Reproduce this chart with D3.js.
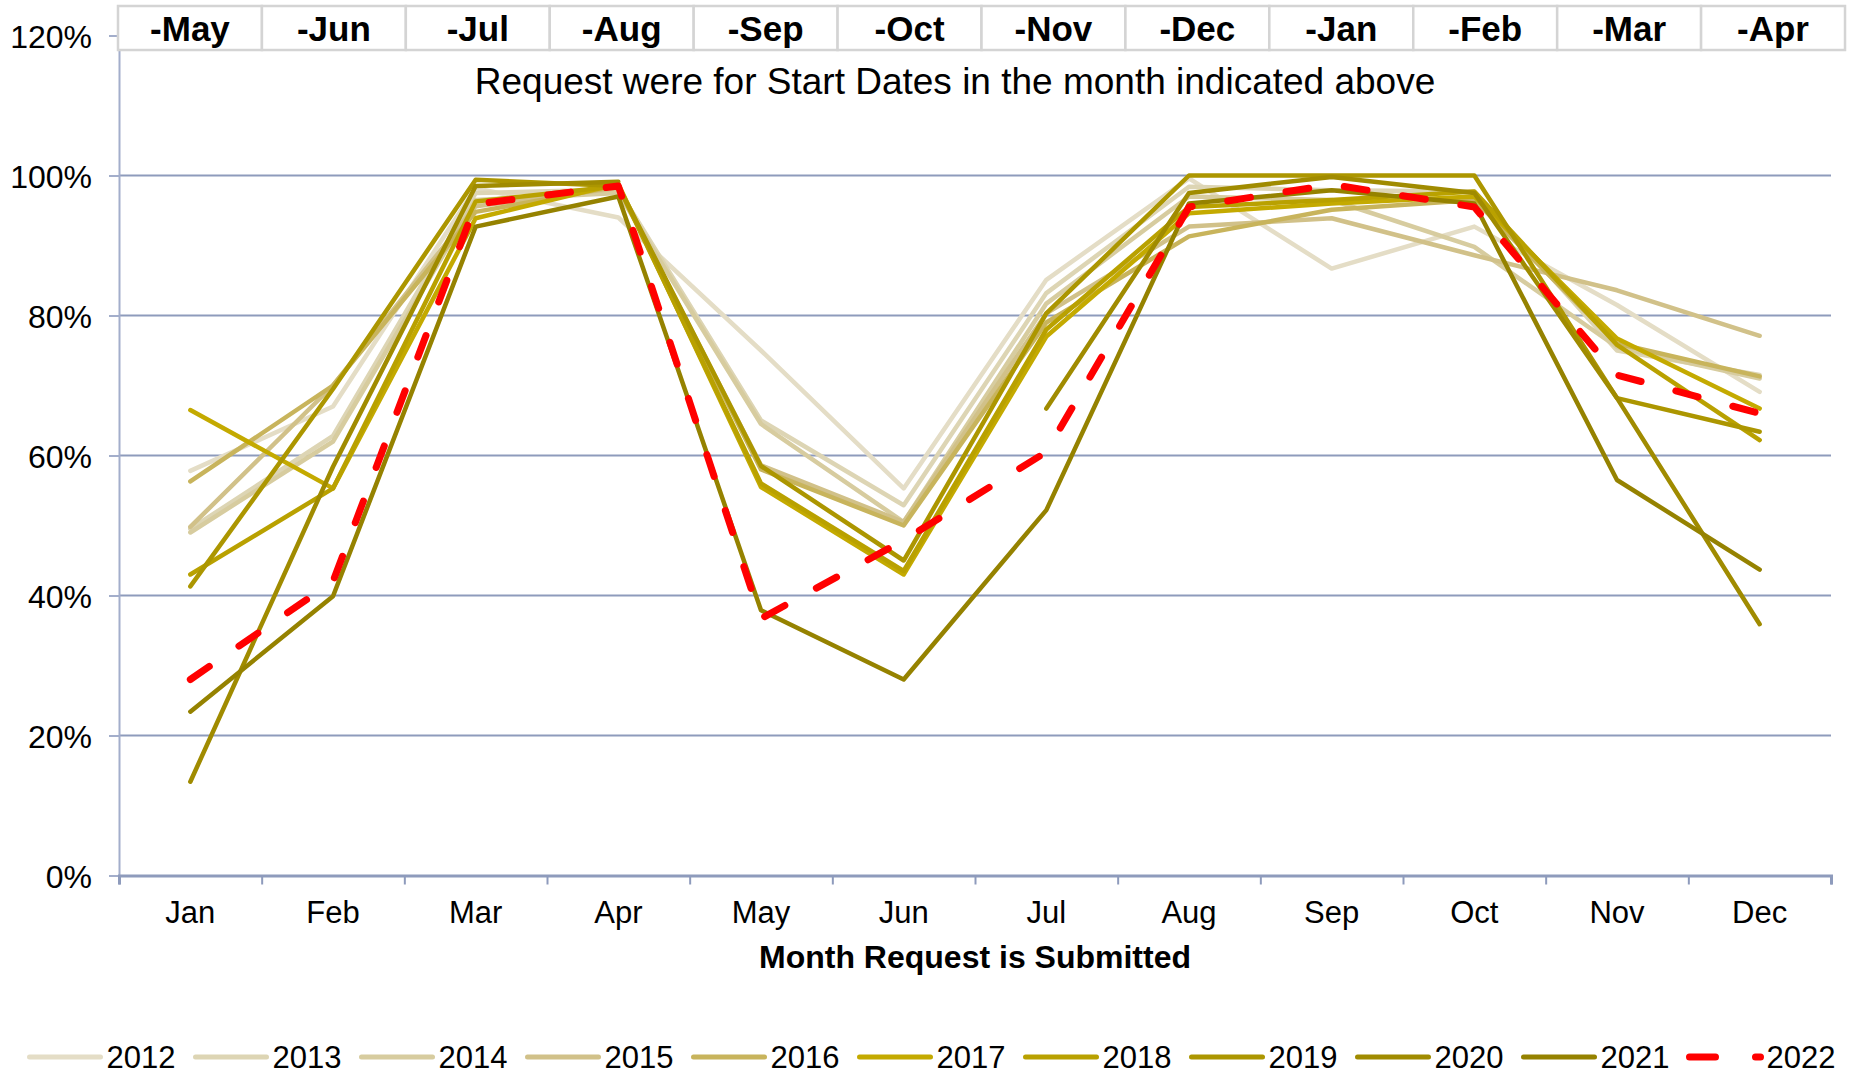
<!DOCTYPE html>
<html>
<head>
<meta charset="utf-8">
<script src="https://cdn.jsdelivr.net/npm/d3@7/dist/d3.min.js"></script>
<style>
  body { margin: 0; background: #fff; }
  text { font-family: "Liberation Sans", Arial, sans-serif; fill: #000; }
</style>
</head>
<body>
<svg id="chart" width="1853" height="1074"></svg>
<script>
// Month the request is submitted, and the start month it was for
const months = ["Jan", "Feb", "Mar", "Apr", "May", "Jun", "Jul", "Aug", "Sep", "Oct", "Nov", "Dec"];
const startMonths = ["-May", "-Jun", "-Jul", "-Aug", "-Sep", "-Oct", "-Nov", "-Dec", "-Jan", "-Feb", "-Mar", "-Apr"];
const yTicks = [0, 0.2, 0.4, 0.6, 0.8, 1.0, 1.2];

const years = ["2012", "2013", "2014", "2015", "2016", "2017", "2018", "2019", "2020", "2021", "2022"];
const colors = ["#e4ddc6", "#ddd5b4", "#d7cc9f", "#d1c189", "#c8b45c", "#c4aa00", "#b9a100", "#ac9600", "#a08b00", "#958200", "#ff0000"];

// share of requests per month (fractions)
const v2012 = [0.578, 0.670, 0.982, 0.940, 0.750, 0.553, 0.851, 0.996, 0.867, 0.927, 0.815, 0.691];
const v2013 = [0.495, 0.628, 0.975, 0.980, 0.650, 0.529, 0.832, 0.984, 0.979, 0.977, 0.750, 0.715];
const v2014 = [0.490, 0.620, 0.965, 0.975, 0.645, 0.505, 0.817, 0.970, 0.965, 0.898, 0.755, 0.710];
const v2015 = [0.498, 0.700, 0.956, 0.982, 0.586, 0.505, 0.803, 0.927, 0.939, 0.886, 0.836, 0.771];
const v2016 = [0.563, 0.700, 0.948, 0.985, 0.580, 0.500, 0.790, 0.913, 0.951, 0.965, 0.760, 0.713];
const v2017 = [0.665, 0.553, 0.939, 0.988, 0.555, 0.430, 0.770, 0.946, 0.960, 0.970, 0.767, 0.667];
const v2018 = [0.430, 0.553, 0.963, 0.985, 0.560, 0.435, 0.780, 0.955, 0.965, 0.977, 0.758, 0.622];
const v2019 = [0.413, 0.695, 0.994, 0.985, 0.585, 0.450, 0.803, 1.000, 1.000, 1.000, 0.682, 0.634];
const v2020 = [0.134, 0.584, 0.985, 0.991, null, null, 0.667, 0.975, 0.998, 0.975, 0.682, 0.359];
const v2021 = [0.234, 0.399, 0.927, 0.970, 0.379, 0.280, 0.522, 0.960, 0.979, 0.960, 0.565, 0.437];
const v2022 = [0.280, 0.420, 0.959, 0.985, 0.367, 0.479, 0.605, 0.955, 0.987, 0.955, 0.715, 0.660];
const seriesValues = [v2012, v2013, v2014, v2015, v2016, v2017, v2018, v2019, v2020, v2021, v2022];

const svg = d3.select("#chart");
const plotLeft = 119, plotRight = 1831, plotBottom = 875.5, plotTop = 35.5;
const axisColor = "#8e9bbc";

const x = d3.scaleBand().domain(months).range([plotLeft, plotRight]);
const xEdge = d3.scaleLinear().domain([0, 12]).range([plotLeft, plotRight]);
const y = d3.scaleLinear().domain([0, 1.2]).range([plotBottom, plotTop]);
const cx = m => x(m) + x.bandwidth() / 2;

// gridlines
svg.append("g")
  .selectAll("line")
  .data(yTicks.filter(d => d > 0 && d < 1.2))
  .join("line")
  .attr("x1", plotLeft).attr("x2", plotRight)
  .attr("y1", d => y(d)).attr("y2", d => y(d))
  .attr("stroke", axisColor)
  .attr("stroke-width", 2);

// y axis
const yAxis = svg.append("g")
  .attr("transform", `translate(${plotLeft},0)`)
  .call(d3.axisLeft(y).tickValues(yTicks).tickFormat(d3.format(".0%")).tickSize(10).tickPadding(17));
yAxis.select(".domain").attr("stroke", "#a3aecb").attr("stroke-width", 2);
yAxis.selectAll(".tick line").attr("stroke", "#a3aecb").attr("stroke-width", 2);
yAxis.selectAll(".tick text").attr("font-size", 32).attr("dy", "0.36em").attr("fill", "#000");

// x axis: ticks on month boundaries, labels centred in each month
const xTicks = svg.append("g")
  .attr("transform", `translate(0,${plotBottom})`)
  .call(d3.axisBottom(xEdge).tickValues(d3.range(13)).tickFormat("").tickSize(9));
xTicks.select(".domain").attr("stroke", axisColor).attr("stroke-width", 3);
xTicks.selectAll(".tick line").attr("stroke", axisColor).attr("stroke-width", 2);

const xLabels = svg.append("g")
  .attr("transform", `translate(0,${plotBottom})`)
  .call(d3.axisBottom(x).tickSize(0).tickPadding(25));
xLabels.select(".domain").remove();
xLabels.selectAll(".tick text").attr("font-size", 31).attr("fill", "#000");

svg.append("text")
  .attr("x", (plotLeft + plotRight) / 2)
  .attr("y", 968)
  .attr("text-anchor", "middle")
  .attr("font-size", 32)
  .attr("font-weight", "bold")
  .text("Month Request is Submitted");

// series lines
const line = d3.line()
  .defined(d => d.v != null)
  .x(d => cx(d.m))
  .y(d => y(d.v));

svg.append("g")
  .selectAll("path")
  .data(years.map((yr, i) => ({ yr, i, pts: months.map((m, j) => ({ m, v: seriesValues[i][j] })) })))
  .join("path")
  .attr("d", d => line(d.pts))
  .attr("fill", "none")
  .attr("stroke", d => colors[d.i])
  .attr("stroke-width", d => d.yr === "2022" ? 7 : 4.5)
  .attr("stroke-dasharray", d => d.yr === "2022" ? "23 36" : null)
  .attr("stroke-linecap", "round")
  .attr("stroke-linejoin", "round");

// header row of start months
const header = svg.append("g");
const cellW = (1845 - 118) / 12;
header.selectAll("rect")
  .data(startMonths)
  .join("rect")
  .attr("x", (d, i) => 118 + i * cellW)
  .attr("y", 6)
  .attr("width", cellW)
  .attr("height", 44)
  .attr("fill", "#fff")
  .attr("stroke", "#d4d4d4")
  .attr("stroke-width", 2.5);
header.selectAll("text")
  .data(startMonths)
  .join("text")
  .attr("x", (d, i) => 118 + i * cellW + cellW / 2)
  .attr("y", 41)
  .attr("text-anchor", "middle")
  .attr("font-size", 35)
  .attr("font-weight", "bold")
  .text(d => d);

svg.append("text")
  .attr("x", 955)
  .attr("y", 94)
  .attr("text-anchor", "middle")
  .attr("font-size", 37)
  .text("Request were for Start Dates in the month indicated above");

// legend
const legend = svg.append("g")
  .selectAll("g")
  .data(years)
  .join("g")
  .attr("transform", (d, i) => `translate(${29.5 + i * 166},0)`);
legend.append("line")
  .attr("x1", 0).attr("x2", 71)
  .attr("y1", 1057).attr("y2", 1057)
  .attr("stroke", (d, i) => colors[i])
  .attr("stroke-width", d => d === "2022" ? 7 : 5)
  .attr("stroke-dasharray", d => d === "2022" ? "26 40" : null)
  .attr("stroke-linecap", "round");
legend.append("text")
  .attr("x", 77)
  .attr("y", 1068)
  .attr("font-size", 31)
  .text(d => d);
</script>
</body>
</html>
